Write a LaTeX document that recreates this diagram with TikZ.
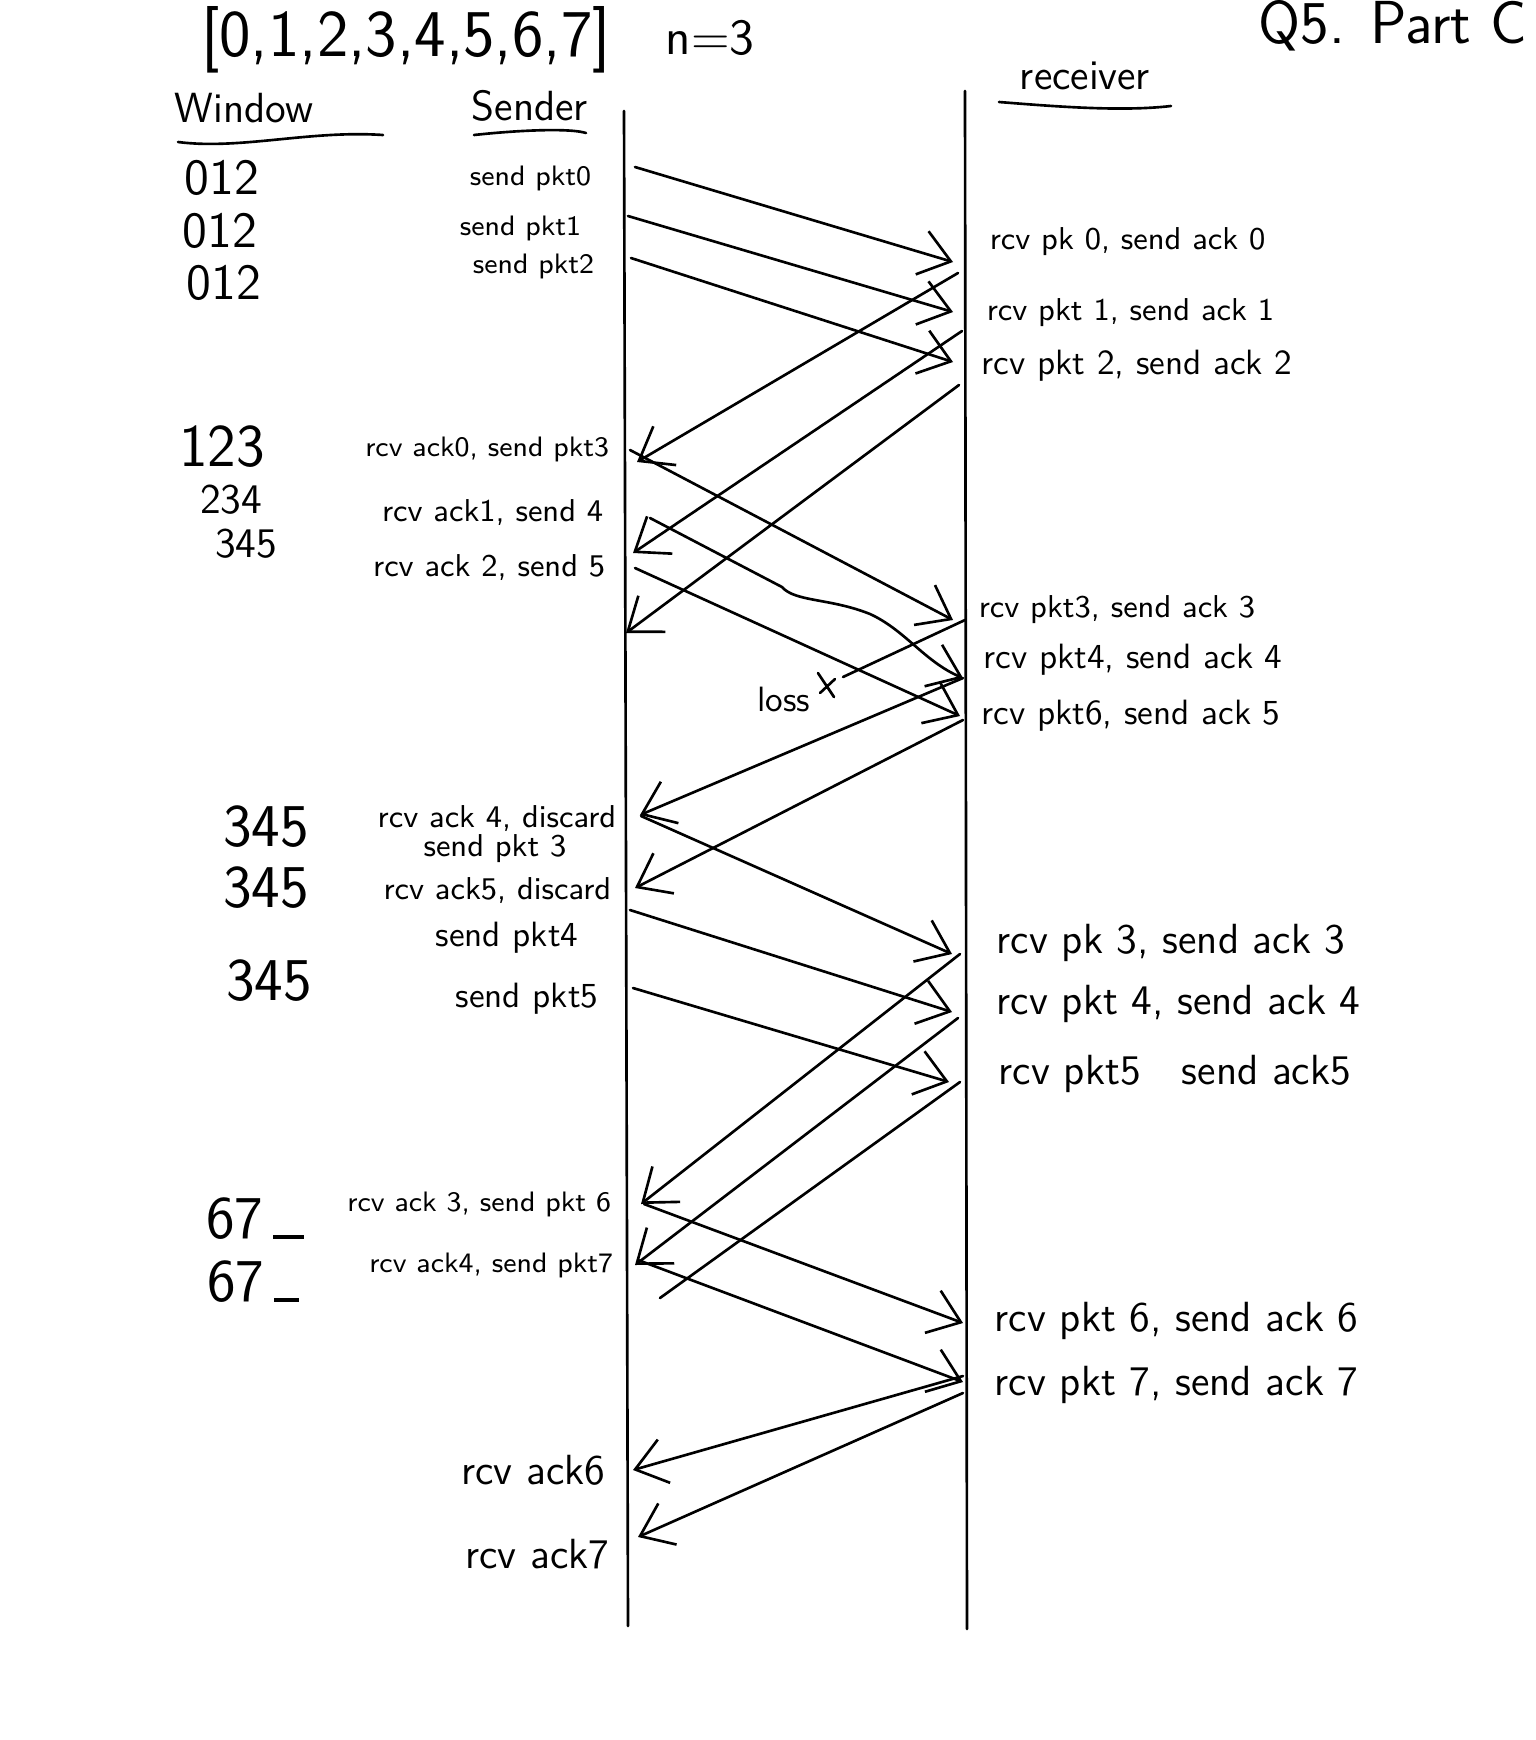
\documentclass[tikz,border=0pt]{standalone}
\usetikzlibrary{arrows.meta}
\begin{document}
\begin{tikzpicture}[>={Straight Barb[length=3mm,width=4.5mm]}, line width=0.75pt, line join=round, line cap=round, font=\sffamily,
	slbl/.style={anchor=east,inner sep=1pt},
	rlbl/.style={anchor=west,inner sep=1pt},
	wnum/.style={inner sep=1pt}]
	\useasboundingbox (0,0) rectangle (15.36,-17.40);
	% headings
	\node[font=\sffamily\fontsize{19}{22}\selectfont] (tlist) at (4.06,-0.40) {[0,1,2,3,4,5,6,7]};
	\node[font=\sffamily\Large] (tn) at (7.10,-0.38) {n=3};
	\node[font=\sffamily\LARGE,anchor=east] (tq) at (15.40,-0.26) {Q5. Part C};
	\node[font=\sffamily\large] (twin) at (2.44,-1.08) {Window};
	\node[font=\sffamily\large] (tsnd) at (5.30,-1.06) {Sender};
	\node[font=\sffamily\large] (trcv) at (10.85,-0.76) {receiver};
	\draw (1.78,-1.42) .. controls (2.40,-1.50) and (3.10,-1.30) .. (3.83,-1.35);
	\draw (4.74,-1.35) .. controls (5.20,-1.30) and (5.70,-1.28) .. (5.86,-1.33);
	\draw (9.99,-1.02) .. controls (10.50,-1.06) and (11.20,-1.12) .. (11.71,-1.06);
	% lifelines
	\path
	(6.24,-1.11) coordinate (S1)
	(6.28,-16.26) coordinate (S2)
	(9.65,-0.91) coordinate (R1)
	(9.67,-16.29) coordinate (R2)
	;
	\draw (S1)--(S2) (R1)--(R2);
	% packets and acks
	\foreach \n/\xa/\ya/\xb/\yb in {p0/6.35/1.67/9.53/2.62, p1/6.28/2.16/9.53/3.12, p2/6.31/2.58/9.53/3.62,
		a0/9.58/2.73/6.37/4.62, a1/9.62/3.31/6.33/5.53, a2/9.59/3.85/6.26/6.33,
		p3/6.30/4.50/9.53/6.20, p5/6.35/5.68/9.60/7.16,
		a4/9.63/6.78/6.40/8.15, a5/9.63/7.20/6.35/8.88,
		q3/6.41/8.16/9.52/9.54, q4/6.30/9.10/9.52/10.12, q5/6.33/9.88/9.49/10.82,
		b3/9.60/9.54/6.41/12.04, b4/9.58/10.18/6.35/12.65,
		p6/6.44/12.04/9.63/13.23, p7/6.38/12.60/9.63/13.82,
		a6/9.63/13.76/6.33/14.70, a7/9.63/13.93/6.38/15.37}
	{\path (\xa,-\ya) coordinate (\n s) (\xb,-\yb) coordinate (\n e);
		\draw[->] (\n s)--(\n e);}
	% wavy pkt4
	\path (6.50,-5.18) coordinate (p4s) (7.82,-5.87) coordinate (p4m) (9.63,-6.78) coordinate (p4e);
	\draw[->] (p4s)--(p4m) .. controls (7.95,-6.02) and (8.30,-5.98) .. (8.70,-6.14) .. controls (9.05,-6.30) and (9.25,-6.62) .. (p4e);
	% lost ack3, ack5 with no head
	\path (9.65,-6.20) coordinate (a3s) (8.43,-6.77) coordinate (a3e) (8.27,-6.85) coordinate (X)
	(9.60,-10.82) coordinate (b5s) (6.60,-12.98) coordinate (b5e);
	\draw (a3s)--(a3e) (b5s)--(b5e);
	\draw ([shift={(-0.09,0.12)}]X)--([shift={(0.07,-0.12)}]X) ([shift={(-0.07,-0.08)}]X)--([shift={(0.08,0.06)}]X);
	\node[font=\sffamily\normalsize] (tloss) at (7.84,-6.99) {loss};
	% window column
	\foreach \i/\x/\y/\fs/\t in {1/2.22/1.78/\Large/012, 2/2.20/2.31/\Large/012, 3/2.24/2.83/\Large/012,
		4/2.22/4.47/\LARGE/123, 5/2.31/5.00/\large/234, 6/2.46/5.44/\large/345,
		7/2.66/8.27/\LARGE/345, 8/2.66/8.88/\LARGE/345, 9/2.69/9.81/\LARGE/345,
		10/2.55/12.19/\LARGE/{67\,\rule{0.5em}{0.06em}}, 11/2.53/12.82/\LARGE/{67\,\rule{0.4em}{0.06em}}}
	\node[wnum] (w\i) at (\x,-\y) {\fs\t};
	% sender side
	\foreach \i/\x/\y/\fs/\t in {1/5.96/1.78/\footnotesize/{send pkt0}, 2/5.86/2.28/\footnotesize/{send pkt1},
		3/5.99/2.66/\footnotesize/{send pkt2}, 4/6.14/4.49/\footnotesize/{rcv ack0, send pkt3},
		5/6.08/5.13/\small/{rcv ack1, send 4}, 6/6.10/5.68/\small/{rcv ack 2, send 5},
		7/6.21/8.19/\small/{rcv ack 4, discard}, 8/6.16/8.91/\small/{rcv ack5, discard},
		9/6.16/12.04/\footnotesize/{rcv ack 3, send pkt 6}, 10/6.18/12.65/\footnotesize/{rcv ack4, send pkt7},
		11/6.10/14.70/\large/{rcv ack6}, 12/6.14/15.54/\large/{rcv ack7}}
	\node[slbl] (s\i) at (\x,-\y) {\fs\t};
	\node[font=\sffamily\small] (s13) at (4.95,-8.49) {send pkt 3};
	\node[font=\sffamily\normalsize] (s14) at (5.07,-9.38) {send pkt4};
	\node[font=\sffamily\normalsize] (s15) at (5.27,-9.99) {send pkt5};
	% receiver side
	\foreach \i/\x/\y/\fs/\t in {1/9.85/2.42/\small/{rcv pk 0, send ack 0}, 2/9.82/3.13/\small/{rcv pkt 1, send ack 1},
		3/9.77/3.66/\normalsize/{rcv pkt 2, send ack 2}, 4/9.74/6.10/\small/{rcv pkt3, send ack 3},
		5/9.79/6.60/\normalsize/{rcv pkt4, send ack 4}, 6/9.77/7.16/\normalsize/{rcv pkt6, send ack 5},
		7/9.92/9.43/\large/{rcv pk 3, send ack 3}, 8/9.92/10.04/\large/{rcv pkt 4, send ack 4},
		9/9.94/10.74/\large/{rcv pkt5~~ send ack5}, 10/9.90/13.21/\large/{rcv pkt 6, send ack 6},
		11/9.90/13.85/\large/{rcv pkt 7, send ack 7}}
	\node[rlbl] (r\i) at (\x,-\y) {\fs\t};
\end{tikzpicture}
\end{document}
